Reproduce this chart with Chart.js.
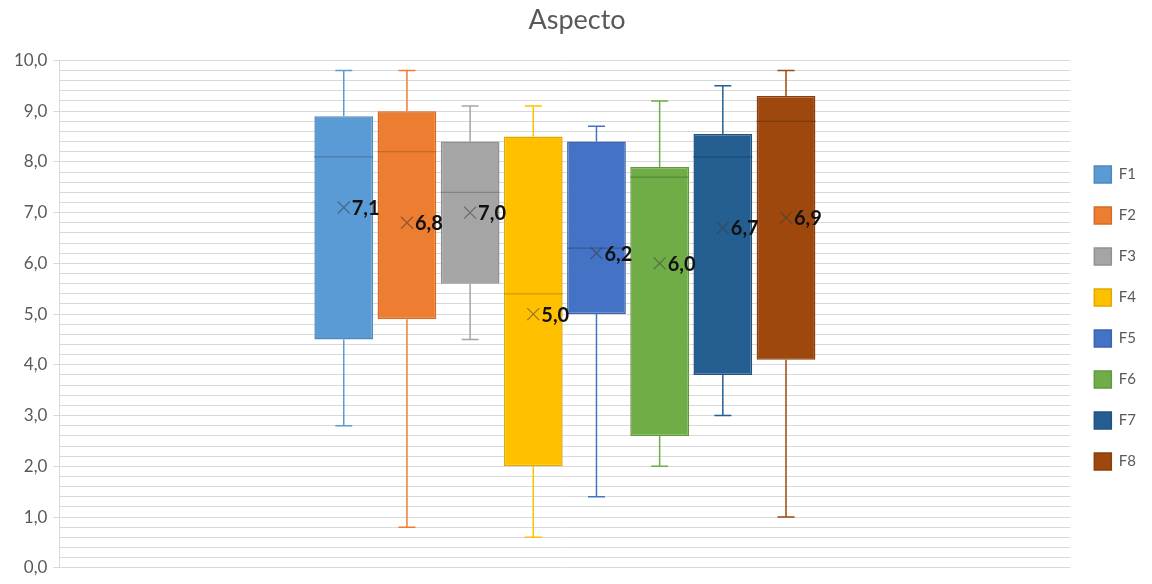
<!DOCTYPE html>
<html lang="es">
<head>
  <meta charset="UTF-8">
  <title>Aspecto</title>
  <script src="https://cdn.jsdelivr.net/npm/chart.js"></script>
  <style>
    html, body {
      margin: 0;
      padding: 0;
      background: #ffffff;
    }

    .chart-box {
      width: 1152px;
      height: 584px;
    }
  </style>
</head>
<body>

<div class="chart-box">
  <canvas id="aspectoChart"></canvas>
</div>

<script>
  // Cajas y bigotes por formulación
  const series = ['F1', 'F2', 'F3', 'F4', 'F5', 'F6', 'F7', 'F8'];
  const minimos = [2.8, 0.8, 4.5, 0.6, 1.4, 2.0, 3.0, 1.0];
  const cuartil1 = [4.5, 4.9, 5.6, 2.0, 5.0, 2.6, 3.8, 4.1];
  const medianas = [8.1, 8.2, 7.4, 5.4, 6.3, 7.7, 8.1, 8.8];
  const cuartil3 = [8.9, 9.0, 8.4, 8.5, 8.4, 7.9, 8.55, 9.3];
  const maximos = [9.8, 9.8, 9.1, 9.1, 8.7, 9.2, 9.5, 9.8];
  const medias = [7.1, 6.8, 7.0, 5.0, 6.2, 6.0, 6.7, 6.9];

  const colores = ['#5B9BD5', '#ED7D31', '#A5A5A5', '#FFC000', '#4472C4', '#70AD47', '#255E91', '#9E480E'];

  // oscurece un color hex (f < 1)
  function oscurecer(hex, f) {
    const n = parseInt(hex.slice(1), 16);
    const r = Math.round(((n >> 16) & 255) * f);
    const g = Math.round(((n >> 8) & 255) * f);
    const b = Math.round((n & 255) * f);
    return `rgb(${r}, ${g}, ${b})`;
  }

  const fmt = v => v.toFixed(1).replace('.', ',');

  // bigotes, mediana, marca de la media y su etiqueta
  const bigotes = {
    id: 'bigotes',
    afterDatasetsDraw(chart) {
      const { ctx } = chart;
      const y = chart.scales.y;

      series.forEach((_, i) => {
        const bar = chart.getDatasetMeta(i).data[0];
        if (!bar) return;
        const x = bar.x;
        const half = bar.width / 2;
        const cap = 8.5;

        ctx.save();
        ctx.strokeStyle = colores[i];
        ctx.lineWidth = 1.5;
        ctx.beginPath();
        ctx.moveTo(x, y.getPixelForValue(cuartil3[i]));
        ctx.lineTo(x, y.getPixelForValue(maximos[i]));
        ctx.moveTo(x - cap, y.getPixelForValue(maximos[i]));
        ctx.lineTo(x + cap, y.getPixelForValue(maximos[i]));
        ctx.moveTo(x, y.getPixelForValue(cuartil1[i]));
        ctx.lineTo(x, y.getPixelForValue(minimos[i]));
        ctx.moveTo(x - cap, y.getPixelForValue(minimos[i]));
        ctx.lineTo(x + cap, y.getPixelForValue(minimos[i]));
        ctx.stroke();

        // mediana
        ctx.strokeStyle = oscurecer(colores[i], 0.8);
        ctx.lineWidth = 1.2;
        ctx.beginPath();
        ctx.moveTo(x - half, y.getPixelForValue(medianas[i]));
        ctx.lineTo(x + half, y.getPixelForValue(medianas[i]));
        ctx.stroke();

        // media (x)
        const ym = y.getPixelForValue(medias[i]);
        ctx.strokeStyle = 'rgba(60, 60, 60, 0.55)';
        ctx.lineWidth = 1.2;
        ctx.beginPath();
        ctx.moveTo(x - 6, ym - 6);
        ctx.lineTo(x + 6, ym + 6);
        ctx.moveTo(x + 6, ym - 6);
        ctx.lineTo(x - 6, ym + 6);
        ctx.stroke();
        ctx.restore();
      });

      ctx.save();
      ctx.font = 'bold 20px Lato';
      ctx.fillStyle = '#111111';
      ctx.textAlign = 'left';
      ctx.textBaseline = 'middle';
      series.forEach((_, i) => {
        const bar = chart.getDatasetMeta(i).data[0];
        if (!bar) return;
        ctx.fillText(fmt(medias[i]), bar.x + 8, y.getPixelForValue(medias[i]) + 1);
      });
      ctx.restore();
    }
  };

  new Chart(document.getElementById('aspectoChart'), {
    type: 'bar',
    data: {
      labels: [''],
      datasets: series.map((nombre, i) => ({
        label: nombre,
        data: [[cuartil1[i], cuartil3[i]]],
        backgroundColor: colores[i],
        borderColor: oscurecer(colores[i], 0.88),
        borderWidth: 1.5,
        borderSkipped: false,
        categoryPercentage: 0.5,
        barPercentage: 0.93
      }))
    },
    options: {
      responsive: true,
      maintainAspectRatio: false,
      animation: false,
      layout: {
        padding: { top: 0, right: 6, bottom: 12, left: 8 }
      },
      plugins: {
        title: {
          display: true,
          text: 'Aspecto',
          color: '#595959',
          font: { family: 'Lato', size: 27, weight: 'normal' },
          padding: { top: 4, bottom: 24 }
        },
        legend: {
          position: 'right',
          // título vacío: solo baja un poco la columna de la leyenda
          title: {
            display: true,
            text: ' ',
            font: { size: 10 },
            padding: { top: 52, bottom: 0 }
          },
          labels: {
            color: '#595959',
            font: { family: 'Lato', size: 15 },
            boxWidth: 17,
            boxHeight: 17,
            padding: 24
          }
        },
        tooltip: { enabled: false }
      },
      scales: {
        x: {
          display: false,
          grid: { display: false }
        },
        y: {
          min: 0,
          max: 10,
          border: { display: true, color: '#d9d9d9' },
          grid: {
            color: '#d9d9d9',
            tickLength: 6,
            tickColor: ctx => Math.abs(ctx.tick.value - Math.round(ctx.tick.value)) < 1e-6 ? '#d9d9d9' : 'rgba(0,0,0,0)'
          },
          ticks: {
            stepSize: 0.2,
            autoSkip: false,
            padding: 6,
            color: '#595959',
            font: { family: 'Lato', size: 17 },
            callback: v => Math.abs(v - Math.round(v)) < 1e-6 ? fmt(v) : ''
          }
        }
      }
    },
    plugins: [bigotes]
  });
</script>

</body>
</html>
